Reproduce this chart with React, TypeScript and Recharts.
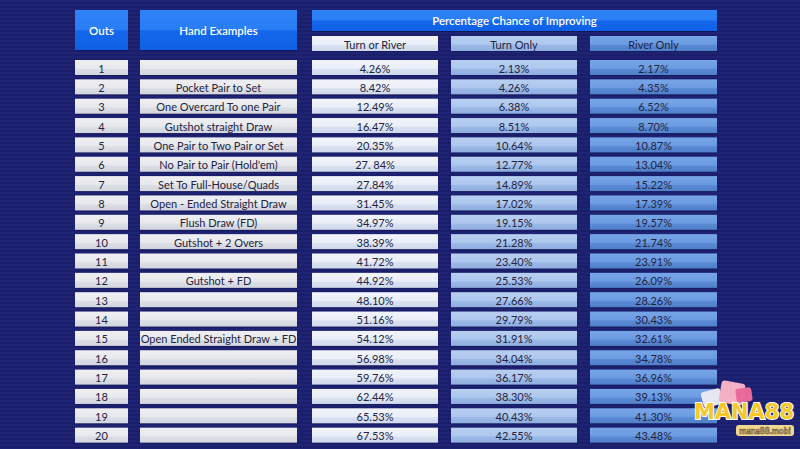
import React from 'react';
import { BarChart, Bar, XAxis, YAxis, Customized } from 'recharts';

const outs = [1, 2, 3, 4, 5, 6, 7, 8, 9, 10, 11, 12, 13, 14, 15, 16, 17, 18, 19, 20];
const handExamples = [
  '',
  'Pocket Pair to Set',
  'One Overcard To one Pair',
  'Gutshot straight Draw',
  'One Pair to Two Pair or Set',
  "No Pair to Pair (Hold'em)",
  'Set To Full-House/Quads',
  'Open - Ended Straight Draw',
  'Flush Draw (FD)',
  'Gutshot + 2 Overs',
  '',
  'Gutshot + FD',
  '',
  '',
  'Open Ended Straight Draw + FD',
  '',
  '',
  '',
  '',
  '',
];
const turnOrRiver = ['4.26%', '8.42%', '12.49%', '16.47%', '20.35%', '27. 84%', '27.84%', '31.45%', '34.97%', '38.39%', '41.72%', '44.92%', '48.10%', '51.16%', '54.12%', '56.98%', '59.76%', '62.44%', '65.53%', '67.53%'];
const turnOnly = ['2.13%', '4.26%', '6.38%', '8.51%', '10.64%', '12.77%', '14.89%', '17.02%', '19.15%', '21.28%', '23.40%', '25.53%', '27.66%', '29.79%', '31.91%', '34.04%', '36.17%', '38.30%', '40.43%', '42.55%'];
const riverOnly = ['2.17%', '4.35%', '6.52%', '8.70%', '10.87%', '13.04%', '15.22%', '17.39%', '19.57%', '21.74%', '23.91%', '26.09%', '28.26%', '30.43%', '32.61%', '34.78%', '36.96%', '39.13%', '41.30%', '43.48%'];
const headers = ['Outs', 'Hand Examples', 'Percentage Chance of Improving'];
const subHeaders = ['Turn or River', 'Turn Only', 'River Only'];

const num = (s: string) => parseFloat(s.replace(/\s/g, ''));

const data = outs.map((o, i) => ({
  outs: o,
  outsVal: o,
  hand: handExamples[i],
  handVal: 1,
  tr: turnOrRiver[i],
  trVal: num(turnOrRiver[i]),
  to: turnOnly[i],
  toVal: num(turnOnly[i]),
  ro: riverOnly[i],
  roVal: num(riverOnly[i]),
}));

const COLS: Record<string, [number, number]> = {
  outs: [75, 128],
  hand: [140, 297],
  tr: [312, 438],
  to: [451, 577],
  ro: [590, 717],
};

const FONT = 'Lato, "Open Sans", sans-serif';
const TEXT_COLOR = '#22243f';

const Defs = () => (
  <defs>
    <linearGradient id="gGray" x1="0" y1="0" x2="0" y2="1">
      <stop offset="0" stopColor="#efeff2" />
      <stop offset="0.55" stopColor="#e8e9ed" />
      <stop offset="0.62" stopColor="#dcdee5" />
      <stop offset="1" stopColor="#d3d6df" />
    </linearGradient>
    <linearGradient id="gTR" x1="0" y1="0" x2="0" y2="1">
      <stop offset="0" stopColor="#f2f4fa" />
      <stop offset="0.55" stopColor="#eaeef7" />
      <stop offset="0.62" stopColor="#dae2f1" />
      <stop offset="1" stopColor="#cfd9ec" />
    </linearGradient>
    <linearGradient id="gTO" x1="0" y1="0" x2="0" y2="1">
      <stop offset="0" stopColor="#b8cff0" />
      <stop offset="0.55" stopColor="#adc7ee" />
      <stop offset="0.62" stopColor="#9cb9e6" />
      <stop offset="1" stopColor="#8fade0" />
    </linearGradient>
    <linearGradient id="gRO" x1="0" y1="0" x2="0" y2="1">
      <stop offset="0" stopColor="#77a5e6" />
      <stop offset="0.55" stopColor="#6b9be2" />
      <stop offset="0.62" stopColor="#5a8ad4" />
      <stop offset="1" stopColor="#4f7fca" />
    </linearGradient>
    <linearGradient id="gHead" x1="0" y1="0" x2="0" y2="1">
      <stop offset="0" stopColor="#2f82f7" />
      <stop offset="0.48" stopColor="#2a7ef5" />
      <stop offset="0.52" stopColor="#1467ec" />
      <stop offset="1" stopColor="#0f60e4" />
    </linearGradient>
  </defs>
);

const cellBox = (x0: number, x1: number, y: number, h: number, fill: string, text: string, key?: string) => (
  <g key={key}>
    <rect x={x0} y={y + 1} width={x1 - x0} height={h} fill="#11154d" opacity={0.5} />
    <rect x={x0} y={y} width={x1 - x0} height={h} fill={fill} />
    <text
      x={(x0 + x1) / 2}
      y={y + h / 2 + 0.5}
      textAnchor="middle"
      dominantBaseline="central"
      fontFamily={FONT}
      fontSize={11}
      fill={TEXT_COLOR}
    >
      {text}
    </text>
  </g>
);

const makeShape = (col: string, labelKey: string, fill: string) => (props: any) => {
  const { y, height, payload } = props;
  const [x0, x1] = COLS[col];
  return cellBox(x0, x1, y, height, fill, String(payload[labelKey]));
};

const Header = () => {
  const headText = (x: number, y: number, t: string) => (
    <text x={x} y={y} textAnchor="middle" dominantBaseline="central" fontFamily={FONT} fontSize={11.5} fontWeight={600} fill="#ffffff">
      {t}
    </text>
  );
  return (
    <g>
      <Defs />
      <rect x={COLS.outs[0]} y={11} width={COLS.outs[1] - COLS.outs[0]} height={40} fill="#0a0f45" opacity={0.5} />
      <rect x={COLS.outs[0]} y={10} width={COLS.outs[1] - COLS.outs[0]} height={40} fill="url(#gHead)" />
      {headText((COLS.outs[0] + COLS.outs[1]) / 2, 30.5, headers[0])}
      <rect x={COLS.hand[0]} y={11} width={COLS.hand[1] - COLS.hand[0]} height={40} fill="#0a0f45" opacity={0.5} />
      <rect x={COLS.hand[0]} y={10} width={COLS.hand[1] - COLS.hand[0]} height={40} fill="url(#gHead)" />
      {headText((COLS.hand[0] + COLS.hand[1]) / 2, 30.5, headers[1])}
      <rect x={COLS.tr[0]} y={11} width={COLS.ro[1] - COLS.tr[0]} height={21} fill="#0a0f45" opacity={0.5} />
      <rect x={COLS.tr[0]} y={10} width={COLS.ro[1] - COLS.tr[0]} height={21} fill="url(#gHead)" />
      {headText((COLS.tr[0] + COLS.ro[1]) / 2, 20, headers[2])}
      {cellBox(COLS.tr[0], COLS.tr[1], 36, 15, 'url(#gTR)', subHeaders[0], 's0')}
      {cellBox(COLS.to[0], COLS.to[1], 36, 15, 'url(#gTO)', subHeaders[1], 's1')}
      {cellBox(COLS.ro[0], COLS.ro[1], 36, 15, 'url(#gRO)', subHeaders[2], 's2')}
    </g>
  );
};

const Watermark = () => (
  <svg width={110} height={70} style={{ position: 'absolute', left: 690, top: 376 }}>
    <rect x={12} y={14} width={20} height={16} rx={3} fill="#e6e6ee" transform="rotate(-15 22 22)" />
    <rect x={30} y={6} width={24} height={22} rx={3} fill="#f4b0c4" transform="rotate(10 42 17)" />
    <rect x={46} y={12} width={16} height={14} rx={3} fill="#e86a9a" transform="rotate(-8 54 19)" />
    <text x={54} y={43} textAnchor="middle" fontFamily={'"DejaVu Sans", sans-serif'} fontSize={21} fontWeight={900} fill="#f6c928" stroke="#ffffff" strokeWidth={2} paintOrder="stroke">
      MANA88
    </text>
    <rect x={46} y={49} width={58} height={11} rx={3} fill="#f0d890" />
    <text x={75} y={57.5} textAnchor="middle" fontFamily={FONT} fontSize={8.5} fontWeight={700} fill="#ffffff" stroke="#6a4a10" strokeWidth={0.6}>
      mana88.mobi
    </text>
  </svg>
);

export default function App() {
  return (
    <div
      style={{
        position: 'fixed',
        left: 0,
        top: 0,
        width: 800,
        height: 449,
        background: 'repeating-linear-gradient(to bottom, #1e2374 0px, #1e2374 2px, #1b1f6b 2px, #1b1f6b 4px)',
      }}
    >
      <BarChart width={800} height={449} data={data} layout="vertical" margin={{ top: 58, right: 0, bottom: 4, left: 0 }} barSize={15}>
        <XAxis type="number" hide domain={[0, 'dataMax']} />
        <YAxis type="category" dataKey="outs" hide />
        <Customized component={Header} />
        <Bar dataKey="outsVal" stackId="row" isAnimationActive={false} shape={makeShape('outs', 'outs', 'url(#gGray)')} />
        <Bar dataKey="handVal" stackId="row" isAnimationActive={false} shape={makeShape('hand', 'hand', 'url(#gGray)')} />
        <Bar dataKey="trVal" stackId="row" isAnimationActive={false} shape={makeShape('tr', 'tr', 'url(#gTR)')} />
        <Bar dataKey="toVal" stackId="row" isAnimationActive={false} shape={makeShape('to', 'to', 'url(#gTO)')} />
        <Bar dataKey="roVal" stackId="row" isAnimationActive={false} shape={makeShape('ro', 'ro', 'url(#gRO)')} />
      </BarChart>
      <Watermark />
    </div>
  );
}
